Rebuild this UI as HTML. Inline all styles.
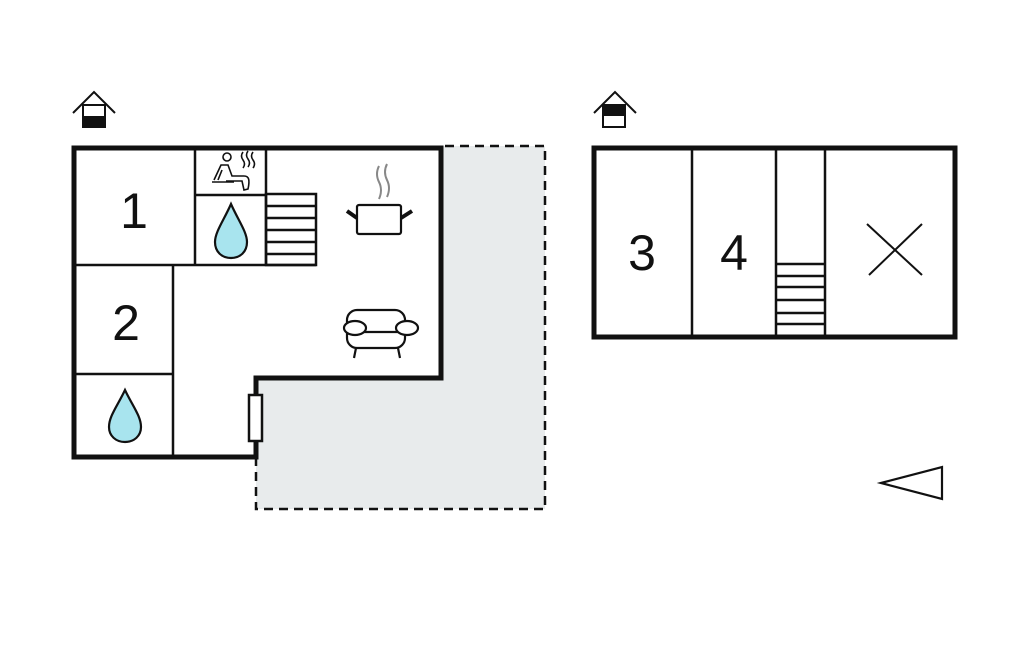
<!DOCTYPE html>
<html><head><meta charset="utf-8"><style>
html,body{margin:0;padding:0;background:#fff;width:1024px;height:652px;overflow:hidden}
svg{display:block}
text{font-family:"Liberation Sans",sans-serif;fill:#111}
</style></head><body>
<svg width="1024" height="652" viewBox="0 0 1024 652" xmlns="http://www.w3.org/2000/svg">
<!-- terrace -->
<path d="M443,146 L545,146 L545,509 L256,509 L256,378 L443,378 Z" fill="#e8ebec"/>
<path d="M445,146 L545,146 L545,509 L256,509 L256,459" fill="none" stroke="#111" stroke-width="2.5" stroke-dasharray="9,6"/>
<!-- left building -->
<path d="M74,148 L441,148 L441,378 L256,378 L256,457 L74,457 Z" fill="#fff" stroke="#111" stroke-width="5"/>
<g stroke="#111" stroke-width="2.5" fill="none">
<line x1="195" y1="148" x2="195" y2="265"/>
<line x1="266" y1="148" x2="266" y2="265"/>
<line x1="195" y1="195" x2="266" y2="195"/>
<line x1="74" y1="265" x2="316" y2="265"/>
<rect x="266" y="194" width="50" height="71"/>
<line x1="266" y1="206" x2="316" y2="206"/>
<line x1="266" y1="218" x2="316" y2="218"/>
<line x1="266" y1="230" x2="316" y2="230"/>
<line x1="266" y1="242" x2="316" y2="242"/>
<line x1="266" y1="254" x2="316" y2="254"/>
<line x1="173" y1="265" x2="173" y2="457"/>
<line x1="74" y1="374" x2="173" y2="374"/>
</g>
<rect x="249" y="395" width="13" height="46" fill="#fff" stroke="#111" stroke-width="2.5"/>
<!-- drops -->
<path d="M231,204 C224,220 215,232 215,242 C215,252 222,258 231,258 C240,258 247,252 247,242 C247,232 238,220 231,204 Z" fill="#a8e4ee" stroke="#111" stroke-width="2.2"/>
<path d="M125,390 C118,405 109,416 109,427 C109,436 116,442 125,442 C134,442 141,436 141,427 C141,416 132,405 125,390 Z" fill="#a8e4ee" stroke="#111" stroke-width="2.2"/>
<!-- sauna person -->
<g stroke="#111" stroke-width="1.6" fill="none">
<circle cx="227" cy="157" r="4"/>
<path d="M214,180 L221,165 L228,165 L232,176 L244,176 C249,176 250,180 248,189 L244,190 L242,181 L226,181"/>
<path d="M218,180 L222,170"/>
<line x1="212" y1="182" x2="234" y2="182"/>
<path d="M243,152 q-3,4 0,8 q3,4 0,8"/>
<path d="M248,151 q-3,4 0,8 q3,4 0,8"/>
<path d="M253,152 q-3,4 0,8 q3,4 0,8"/>
</g>
<!-- pot -->
<g stroke="#888" stroke-width="2" fill="none">
<path d="M379,166 q-4,8 0,16 q4,8 0,17"/>
<path d="M387,164 q-4,8 0,16 q4,8 0,17"/>
</g>
<rect x="357" y="205" width="44" height="29" rx="2" fill="#fff" stroke="#111" stroke-width="2.2"/>
<line x1="347" y1="211" x2="357" y2="218" stroke="#111" stroke-width="4"/>
<line x1="401" y1="218" x2="412" y2="211" stroke="#111" stroke-width="4"/>
<!-- sofa -->
<g stroke="#111" stroke-width="2.2" fill="#fff">
<rect x="347" y="310" width="58" height="38" rx="10"/>
<line x1="354" y1="332" x2="407" y2="332"/>
<ellipse cx="355" cy="328" rx="11" ry="7"/>
<ellipse cx="407" cy="328" rx="11" ry="7"/>
<line x1="356" y1="348" x2="354" y2="358"/>
<line x1="398" y1="348" x2="400" y2="358"/>
</g>
<text x="134" y="228" font-size="50" text-anchor="middle">1</text>
<text x="126" y="340" font-size="50" text-anchor="middle">2</text>
<!-- house icons -->
<g stroke="#111" stroke-width="2" fill="none">
<path d="M73,113 L94,92 L115,113"/>
<rect x="83" y="105" width="22" height="22" fill="#fff"/>
<path d="M594,113 L615,92 L636,113"/>
<rect x="603" y="105" width="22" height="22" fill="#fff"/>
</g>
<rect x="83" y="116" width="22" height="11" fill="#111"/>
<rect x="603" y="105" width="22" height="11" fill="#111"/>
<!-- right building -->
<rect x="594" y="148" width="361" height="189" fill="#fff" stroke="#111" stroke-width="5"/>
<g stroke="#111" stroke-width="2.5">
<line x1="692" y1="148" x2="692" y2="337"/>
<line x1="776" y1="148" x2="776" y2="337"/>
<line x1="825" y1="148" x2="825" y2="337"/>
<line x1="776" y1="264" x2="825" y2="264"/>
<line x1="776" y1="276" x2="825" y2="276"/>
<line x1="776" y1="287" x2="825" y2="287"/>
<line x1="776" y1="300" x2="825" y2="300"/>
<line x1="776" y1="313" x2="825" y2="313"/>
<line x1="776" y1="324" x2="825" y2="324"/>
<line x1="867" y1="224" x2="922" y2="275" stroke-width="2"/>
<line x1="922" y1="224" x2="869" y2="275" stroke-width="2"/>
</g>
<text x="642" y="270" font-size="50" text-anchor="middle">3</text>
<text x="734" y="270" font-size="50" text-anchor="middle">4</text>
<polygon points="881,483 942,467 942,499" fill="none" stroke="#111" stroke-width="2.2"/>
</svg>
</body></html>
